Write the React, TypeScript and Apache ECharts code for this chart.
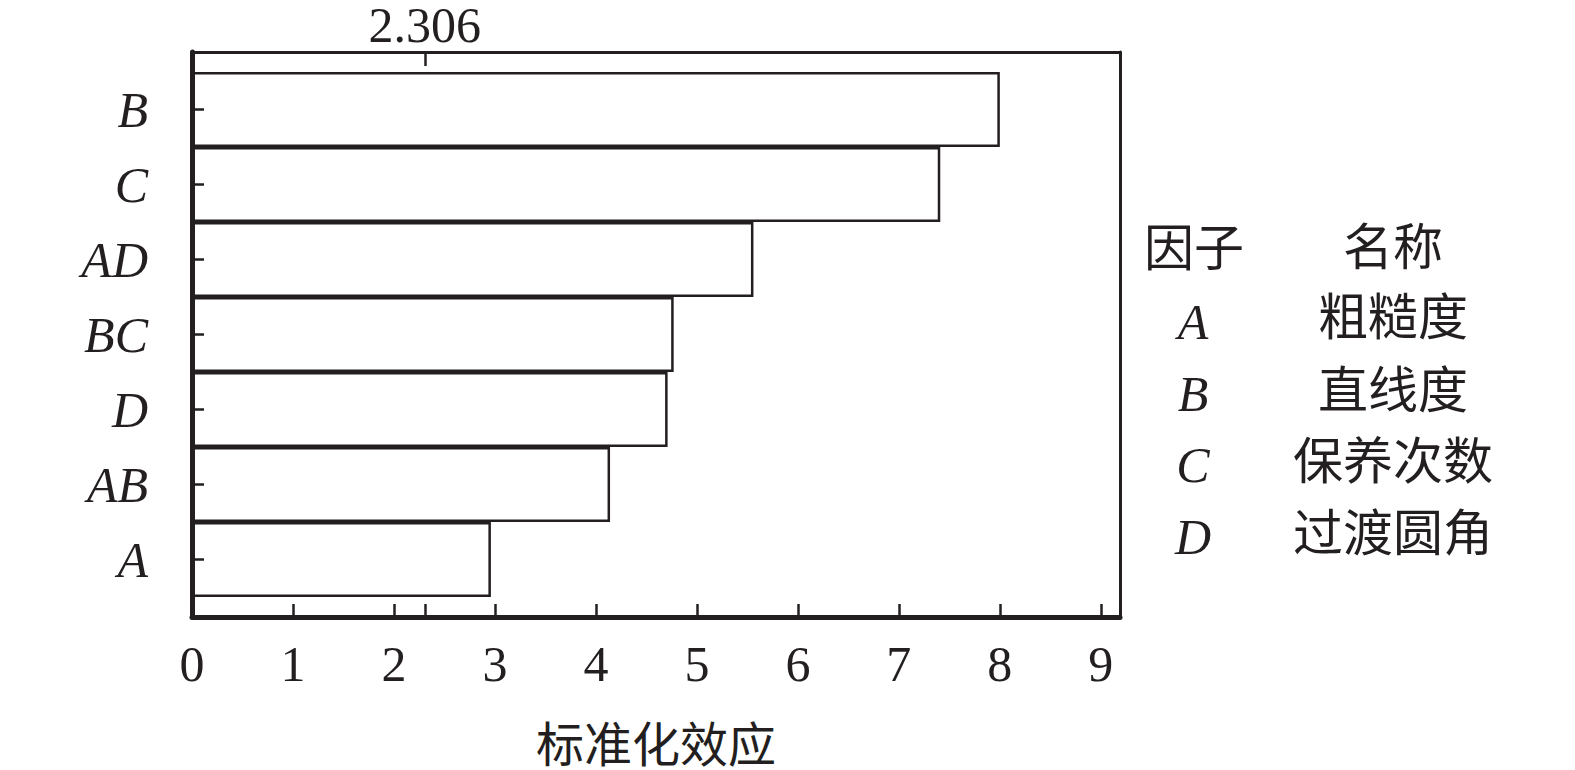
import React, { useEffect, useRef } from "react";
import * as echarts from "echarts";

const categories = ["B", "C", "AD", "BC", "D", "AB", "A"];
const effects = [8.0, 7.41, 5.56, 4.77, 4.71, 4.14, 2.96];
const xTickValues = [0, 1, 2, 3, 4, 5, 6, 7, 8, 9];
const criticalValue = 2.306;
const axisName = "标准化效应";
const legendHeader = ["因子", "名称"];
const legendFactors = ["A", "B", "C", "D"];
const legendNames = ["粗糙度", "直线度", "保养次数", "过渡圆角"];

const INK = "#231f20";
const XMAX = 9.19;
const SERIF = "'Liberation Serif', 'Times New Roman', serif";
const CJK = "'Noto Sans CJK SC', sans-serif";

export default function App() {
  const ref = useRef<HTMLDivElement>(null);

  useEffect(() => {
    document.body.style.margin = "0";
    if (!ref.current) return;
    const chart = echarts.init(ref.current, undefined, { renderer: "svg" });

    const factorY = [322, 394, 465, 537];
    const nameY = [313, 386, 457, 529];
    const graphicEls: any[] = [
      {
        type: "text",
        x: 1194,
        y: 244,
        style: { text: legendHeader[0], font: `50px ${CJK}`, fill: INK, align: "center", verticalAlign: "middle" },
      },
      {
        type: "text",
        x: 1393,
        y: 243,
        style: { text: legendHeader[1], font: `50px ${CJK}`, fill: INK, align: "center", verticalAlign: "middle" },
      },
    ];
    legendFactors.forEach((f, i) => {
      graphicEls.push({
        type: "text",
        x: 1193,
        y: factorY[i],
        style: { text: f, font: `italic 50px ${SERIF}`, fill: INK, align: "center", verticalAlign: "middle" },
      });
      graphicEls.push({
        type: "text",
        x: 1393,
        y: nameY[i],
        style: { text: legendNames[i], font: `50px ${CJK}`, fill: INK, align: "center", verticalAlign: "middle" },
      });
    });

    chart.setOption({
      animation: false,
      backgroundColor: "#ffffff",
      grid: [
        { left: 192, top: 52, width: 928, height: 565 },
        { left: 192, top: 72, width: 928, height: 525 },
      ],
      xAxis: [
        {
          gridIndex: 0,
          type: "value",
          position: "bottom",
          min: 0,
          max: XMAX,
          interval: 1,
          z: 10,
          axisLine: { show: true, onZero: false, lineStyle: { color: INK, width: 5 } },
          axisTick: {
            show: true,
            inside: true,
            length: 13,
            lineStyle: { color: INK, width: 2.5 },
            customValues: [...xTickValues, criticalValue],
          },
          axisLabel: {
            customValues: xTickValues,
            fontSize: 50,
            lineHeight: 50,
            fontFamily: SERIF,
            color: INK,
            margin: 22,
          },
          splitLine: { show: false },
          name: axisName,
          nameLocation: "middle",
          nameGap: 100,
          nameTextStyle: { fontSize: 48, lineHeight: 48, fontFamily: CJK, color: INK },
        },
        {
          gridIndex: 0,
          type: "value",
          position: "top",
          min: 0,
          max: XMAX,
          interval: 1,
          z: 10,
          axisLine: { show: true, onZero: false, lineStyle: { color: INK, width: 3 } },
          axisTick: {
            show: true,
            inside: true,
            length: 14,
            lineStyle: { color: INK, width: 2.5 },
            customValues: [criticalValue],
          },
          axisLabel: {
            customValues: [criticalValue],
            formatter: (v: number) => v.toFixed(3),
            fontSize: 50,
            lineHeight: 46,
            fontFamily: SERIF,
            color: INK,
            margin: 4,
          },
          splitLine: { show: false },
        },
        {
          gridIndex: 1,
          type: "value",
          min: 0,
          max: XMAX,
          show: false,
        },
      ],
      yAxis: [
        {
          gridIndex: 0,
          type: "value",
          position: "left",
          min: 0,
          max: 1,
          z: 10,
          axisLine: { show: true, onZero: false, lineStyle: { color: INK, width: 5 } },
          axisTick: { show: false },
          axisLabel: { show: false },
          splitLine: { show: false },
        },
        {
          gridIndex: 0,
          type: "value",
          position: "right",
          min: 0,
          max: 1,
          z: 10,
          axisLine: { show: true, onZero: false, lineStyle: { color: INK, width: 3 } },
          axisTick: { show: false },
          axisLabel: { show: false },
          splitLine: { show: false },
        },
        {
          gridIndex: 1,
          type: "category",
          data: categories,
          inverse: true,
          z: 10,
          axisLine: { show: false, onZero: false },
          axisTick: {
            show: true,
            inside: true,
            alignWithLabel: true,
            length: 12,
            lineStyle: { color: INK, width: 2.5 },
          },
          axisLabel: {
            fontSize: 50,
            fontStyle: "italic",
            fontFamily: SERIF,
            color: INK,
            margin: 44,
          },
          splitLine: { show: false },
        },
      ],
      series: [
        {
          type: "bar",
          xAxisIndex: 2,
          yAxisIndex: 2,
          data: effects,
          barWidth: "100%",
          silent: true,
          itemStyle: { color: "#ffffff", borderColor: INK, borderWidth: 2.5 },
        },
      ],
      graphic: graphicEls,
    });

    return () => chart.dispose();
  }, []);

  return <div ref={ref} style={{ width: 1575, height: 770 }} />;
}
